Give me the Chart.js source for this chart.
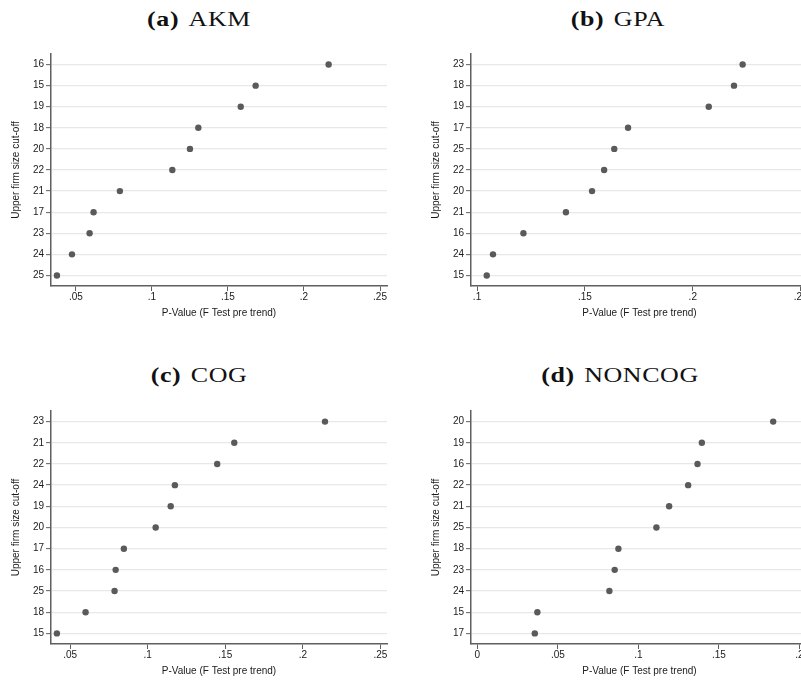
<!DOCTYPE html>
<html>
<head>
<meta charset="utf-8">
<script src="https://cdn.jsdelivr.net/npm/chart.js@4.4.1/dist/chart.umd.min.js"></script>
<style>
  html, body { margin: 0; padding: 0; background: #ffffff; overflow: hidden; width: 801px; height: 681px; }
  .wrap { position: relative; width: 801px; height: 681px; overflow: hidden; }
  canvas { position: absolute; }
  .ttl { position: absolute; width: 300px; text-align: center; font-family: "Liberation Serif", "DejaVu Serif", serif;
         font-size: 22px; line-height: 22px; color: #111; letter-spacing: 0.5px; white-space: nowrap;
         transform: scaleX(1.18); transform-origin: 50% 50%; }
  .ttl b { margin-right: 8px; }
</style>
</head>
<body>
<div class="wrap">
  <div class="ttl" style="left:49px; top:8px;"><b>(a)</b>AKM</div>
  <div class="ttl" style="left:468px; top:8px;"><b>(b)</b>GPA</div>
  <div class="ttl" style="left:49px; top:364px;"><b>(c)</b>COG</div>
  <div class="ttl" style="left:470px; top:364px;"><b>(d)</b>NONCOG</div>
  <canvas id="cA" width="400" height="340" style="left:0px; top:0px;"></canvas>
  <canvas id="cB" width="420" height="340" style="left:400px; top:0px;"></canvas>
  <canvas id="cC" width="400" height="350" style="left:0px; top:340px;"></canvas>
  <canvas id="cD" width="420" height="350" style="left:400px; top:340px;"></canvas>
</div>
<script>
// ---- Data ----
const rowsAKM    = ["16","15","19","18","20","22","21","17","23","24","25"];
const pAKM       = [0.2162,0.1682,0.1584,0.1305,0.1250,0.1134,0.0789,0.0616,0.0590,0.0474,0.0375];

const rowsGPA    = ["23","18","19","17","25","22","20","21","16","24","15"];
const pGPA       = [0.2231,0.2191,0.2074,0.1700,0.1636,0.1589,0.1533,0.1412,0.1215,0.1074,0.1045];

const rowsCOG    = ["23","21","22","24","19","20","17","16","25","18","15"];
const pCOG       = [0.2143,0.1558,0.1448,0.1175,0.1148,0.1051,0.0846,0.0793,0.0786,0.0599,0.0414];

const rowsNONCOG = ["20","19","16","22","21","25","18","23","24","15","17"];
const pNONCOG    = [0.1837,0.1394,0.1367,0.1309,0.1191,0.1112,0.0876,0.0853,0.0820,0.0373,0.0357];

// x tick values and axis ranges
const ticksAKM    = [0.05,0.10,0.15,0.20,0.25];
const ticksGPA    = [0.10,0.15,0.20,0.25];
const ticksCOG    = [0.05,0.10,0.15,0.20,0.25];
const ticksNONCOG = [0,0.05,0.10,0.15,0.20];

const rangeAKM    = [0.0336, 0.2546];
const rangeGPA    = [0.0972, 0.2534];
const rangeCOG    = [0.0376, 0.2543];
const rangeNONCOG = [-0.0039, 0.2053];

const xTitle = "P-Value (F Test pre trend)";
const yTitle = "Upper firm size cut-off";

// ---- Styling ----
const AXIS = '#5f5f5f';
const GRID = '#e8e8e8';
const TEXT = '#1a1a1a';
const DOT  = '#5a5a5a';
const FONT = { family: '"Liberation Sans", Arial, sans-serif', size: 10 };

function fmt(v) {
  if (Math.abs(v) < 1e-9) return '0';
  return String(parseFloat(v.toFixed(2))).replace(/^0\./, '.');
}

function makeChart(id, rows, vals, ticks, range, pad) {
  const ctx = document.getElementById(id);
  return new Chart(ctx, {
    type: 'scatter',
    data: {
      datasets: [{
        data: rows.map((r, i) => ({ x: vals[i], y: r })),
        backgroundColor: DOT,
        borderColor: DOT,
        borderWidth: 0,
        pointRadius: 3.2,
        pointHoverRadius: 3.2
      }]
    },
    options: {
      responsive: false,
      animation: false,
      devicePixelRatio: 1,
      events: [],
      layout: { padding: pad },
      plugins: { legend: { display: false }, tooltip: { enabled: false }, title: { display: false } },
      scales: {
        x: {
          type: 'linear',
          position: 'bottom',
          min: range[0],
          max: range[1],
          afterBuildTicks: s => { s.ticks = ticks.map(v => ({ value: v })); },
          afterFit: s => { s.height = 40; },
          ticks: {
            callback: v => fmt(v),
            color: TEXT, font: FONT, padding: 0, maxRotation: 0, autoSkip: false
          },
          grid: { display: true, drawOnChartArea: false, drawTicks: true, tickLength: 5,
                  color: AXIS, tickColor: AXIS, tickWidth: 1 },
          border: { display: true, color: AXIS, width: 1.5 },
          title: { display: true, text: xTitle, color: TEXT, font: FONT, padding: { top: 0, bottom: 7 } }
        },
        y: {
          type: 'category',
          position: 'left',
          labels: rows,
          offset: true,
          afterFit: s => { s.width = 51; },
          ticks: { color: TEXT, font: FONT, padding: 2, autoSkip: false },
          grid: { display: true, drawOnChartArea: true, offset: false, drawTicks: true, tickLength: 5,
                  color: GRID, lineWidth: 1.3, tickColor: AXIS, tickWidth: 1 },
          border: { display: true, color: AXIS, width: 1.5 },
          title: { display: true, text: yTitle, color: TEXT, font: FONT, padding: { top: 10, bottom: 0 } }
        }
      }
    }
  });
}

makeChart('cA', rowsAKM, pAKM, ticksAKM, rangeAKM, { left: 0, right: 13, top: 54, bottom: 14 });
makeChart('cB', rowsGPA, pGPA, ticksGPA, rangeGPA, { left: 20, right: 12, top: 54, bottom: 14 });
makeChart('cC', rowsCOG, pCOG, ticksCOG, rangeCOG, { left: 0, right: 13, top: 71, bottom: 6 });
makeChart('cD', rowsNONCOG, pNONCOG, ticksNONCOG, rangeNONCOG, { left: 20, right: 12, top: 71, bottom: 6 });
</script>
</body>
</html>
